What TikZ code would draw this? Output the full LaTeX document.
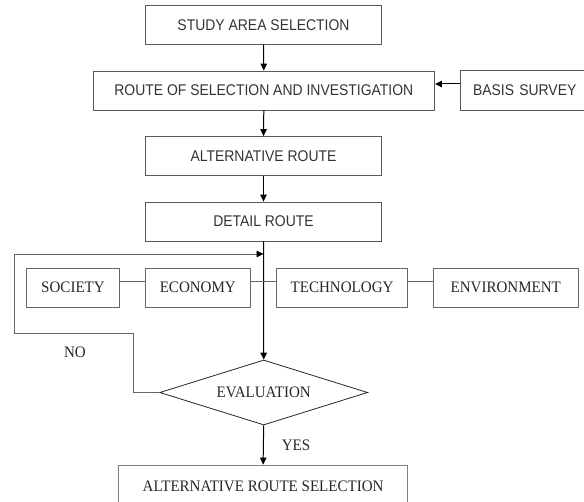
\documentclass[tikz,border=0pt]{standalone}
\usepackage{fontspec}
\usetikzlibrary{shapes.geometric,arrows.meta}
\newfontfamily\boxsans[FakeStretch=0.9]{Liberation Sans}
\newfontfamily\boxserif[FakeStretch=0.94]{Liberation Serif}
\tikzset{
  sbox/.style={draw=black!65, line width=0.8pt, inner sep=0pt, minimum height=39pt,
    font=\boxsans\fontsize{15.5}{18}\selectfont, text=black!80},
  rbox/.style={draw=black!60, line width=0.8pt, inner sep=0pt, minimum height=39pt,
    font=\boxserif\fontsize{16}{19}\selectfont, text=black!85},
  arr/.style={draw=black, line width=1pt, -{Triangle[length=7pt,width=6.5pt]}},
  link/.style={draw=black!60, line width=0.8pt},
  lbl/.style={font=\boxserif\fontsize{16}{19}\selectfont, text=black!85, inner sep=0pt}
}
\begin{document}
\begin{tikzpicture}[x=1pt,y=-1pt]
\clip (0,0) rectangle (584,502);
\useasboundingbox (0,0) rectangle (584,502);
\node[sbox, minimum width=236pt] (study) at (263.5,24.7) {STUDY AREA SELECTION};
\node[sbox, minimum width=341.5pt] (route) at (263.8,90.5) {ROUTE OF SELECTION AND INVESTIGATION};
\node[sbox, minimum width=150pt, minimum height=39.5pt, text width=130pt, align=left] (basis) at (535,90.5) {\hspace*{3pt}BASIS SURVEY};
\node[sbox, minimum width=236pt] (alt) at (263.5,156) {ALTERNATIVE ROUTE};
\node[sbox, minimum width=236pt] (detail) at (263.5,221.5) {DETAIL ROUTE};
\node[rbox, minimum width=92.4pt] (society) at (73,287.5) {SOCIETY};
\node[rbox, minimum width=105pt] (economy) at (197.8,287.5) {ECONOMY};
\node[rbox, minimum width=131.4pt] (tech) at (342.1,287.5) {TECHNOLOGY};
\node[rbox, minimum width=145.3pt] (env) at (505.75,287.5) {ENVIRONMENT};
\node[diamond, draw=black!85, line width=0.8pt, inner sep=0pt, aspect=3.2,
  minimum width=208pt, minimum height=65pt,
  font=\boxserif\fontsize{16}{19}\selectfont, text=black!85] (eval) at (263.7,392.5) {EVALUATION};
\node[rbox, draw=black!50, minimum width=289.4pt, minimum height=42pt] (final) at (263.1,486) {ALTERNATIVE ROUTE SELECTION};
\node[lbl] (no) at (75,352) {NO};
\node[lbl] (yes) at (296,445) {YES};
\coordinate (f1) at (133,333);
\coordinate (f2) at (14,333);
\coordinate (f3) at (14,254);
\draw[arr] (study.south) -- (route.north);
\draw[arr] ([yshift=6.5pt]basis.west) -- ([yshift=6.5pt]route.east);
\draw[arr] (route.south) -- (alt.north);
\draw[arr] (alt.south) -- (detail.north);
\draw[arr] (detail.south) -- (eval.north);
\draw[arr] (eval.south) -- (final.north);
\draw[link] ([yshift=6.5pt]society.east) -- ([yshift=6.5pt]economy.west);
\draw[link] ([yshift=6.5pt]economy.east) -- ([yshift=6.5pt]tech.west);
\draw[link] ([yshift=6.5pt]tech.east) -- ([yshift=6.5pt]env.west);
\draw[link] (eval.west) -| (f1) -- (f2) -- (f3);
\draw[link, -{Triangle[length=7pt,width=6.5pt,color=black]}] (f3) -- (f3 -| detail.south);
\end{tikzpicture}
\end{document}
